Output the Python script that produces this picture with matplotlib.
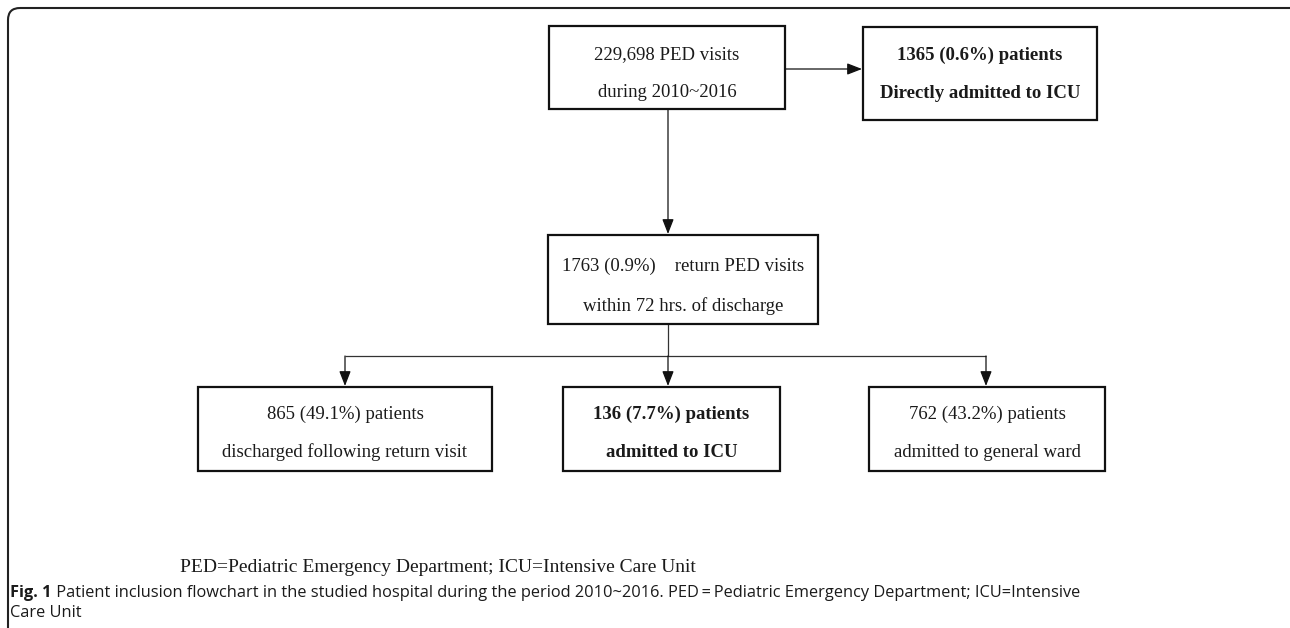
"""
PED return-visit inclusion flowchart, drawn in pixel coordinates.
"""
import matplotlib
matplotlib.use('Agg')
import matplotlib.pyplot as plt
from matplotlib.patches import FancyBboxPatch, Rectangle

# ===== Contents =====
top_lines = ['229,698 PED visits', 'during 2010~2016']
icu_direct_lines = ['1365 (0.6%) patients', 'Directly admitted to ICU']
return_lines = ['1763 (0.9%)    return PED visits', 'within 72 hrs. of discharge']
outcome_lines = [
    ['865 (49.1%) patients', 'discharged following return visit'],
    ['136 (7.7%) patients', 'admitted to ICU'],
    ['762 (43.2%) patients', 'admitted to general ward'],
]
outcome_bold = [False, True, False]
abbrev_note = 'PED=Pediatric Emergency Department; ICU=Intensive Care Unit'
caption_bold = 'Fig. 1'
caption_text = (' Patient inclusion flowchart in the studied hospital during the period '
                '2010~2016. PED\u2009=\u2009Pediatric Emergency Department; ICU=Intensive')
caption_text2 = 'Care Unit'

SERIF = ['Liberation Serif', 'DejaVu Serif']
SANS = ['Open Sans', 'DejaVu Sans']

fig = plt.figure(figsize=(12.9, 6.28), dpi=100)
ax = fig.add_axes([0, 0, 1, 1])
ax.set_xlim(0, 1290)
ax.set_ylim(628, 0)
ax.axis('off')


# ===== Helpers =====
def box(x0, y0, x1, y1, lines, bold=False, ly=(0.35, 0.80)):
    ax.add_patch(Rectangle((x0, y0), x1 - x0, y1 - y0, facecolor='white',
                           edgecolor='#111111', linewidth=1.6, zorder=2))
    cx = (x0 + x1) / 2
    for frac, t in zip(ly, lines):
        ax.text(cx, y0 + frac * (y1 - y0), t, ha='center', va='center',
                fontsize=13.5, family=SERIF, color='#1a1a1a',
                fontweight='bold' if bold else 'normal', zorder=3)


def line(xs, ys):
    ax.plot(xs, ys, color='#333333', lw=0.9, solid_capstyle='butt', zorder=1)


def arrow_down(x, y0, y1):
    ax.annotate('', xy=(x, y1), xytext=(x, y0),
                arrowprops=dict(arrowstyle='-|>,head_length=0.9,head_width=0.35',
                                color='#111111', lw=0.9, shrinkA=0, shrinkB=0))


def arrow_right(y, x0, x1):
    ax.annotate('', xy=(x1, y), xytext=(x0, y),
                arrowprops=dict(arrowstyle='-|>,head_length=0.9,head_width=0.35',
                                color='#111111', lw=0.9, shrinkA=0, shrinkB=0))


# ===== Outer frame (open to the right/bottom, cropped) =====
frame = FancyBboxPatch((8, 8), 1320, 660, boxstyle='round,pad=0,rounding_size=12',
                       facecolor='none', edgecolor='#222222', linewidth=1.5,
                       clip_on=True)
ax.add_patch(frame)

# ===== Boxes =====
box(549, 26, 785, 109, top_lines)
box(863, 27, 1097, 120, icu_direct_lines, bold=True, ly=(0.30, 0.72))
box(548, 235, 818, 324, return_lines)
outcome_x = [(198, 492), (563, 780), (869, 1105)]
for (x0, x1), lines, b in zip(outcome_x, outcome_lines, outcome_bold):
    box(x0, 387, x1, 471, lines, bold=b, ly=(0.33, 0.78))

# ===== Connectors =====
arrow_right(69, 785, 862)
arrow_down(668, 109, 234)
line([668, 668], [324, 356])
line([345, 986], [356, 356])
arrow_down(345, 356, 386)
arrow_down(668, 356, 386)
arrow_down(986, 356, 386)

# ===== Notes and caption =====
ax.text(180, 567, abbrev_note, ha='left', va='center', fontsize=14,
        family=SERIF, color='#1a1a1a')
t = ax.text(10, 593, caption_bold, ha='left', va='center', fontsize=11.8,
            family=SANS, fontweight='bold', color='#1a1a1a')
ax.annotate(caption_text, xycoords=t, xy=(1, 0.5), va='center', ha='left',
            fontsize=11.8, family=SANS, color='#1a1a1a')
ax.text(10, 613, caption_text2, ha='left', va='center', fontsize=11.8,
        family=SANS, color='#1a1a1a')

fig.savefig('out.png', dpi=100, facecolor='white')
